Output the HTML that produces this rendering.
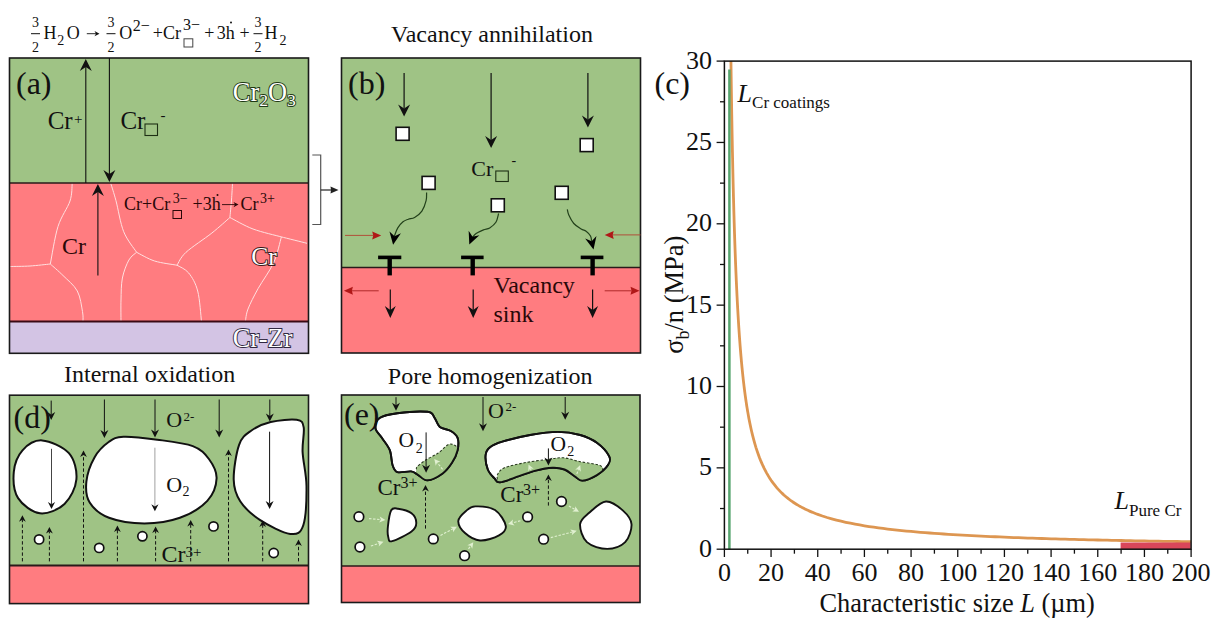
<!DOCTYPE html>
<html><head><meta charset="utf-8"><style>
html,body{margin:0;padding:0;background:#fff;}
svg{display:block;}
text{font-family:"Liberation Serif", serif;}
</style></head><body>
<svg width="1213" height="621" viewBox="0 0 1213 621">
<rect width="1213" height="621" fill="#fff"/>
<rect x="9.5" y="58" width="299" height="125" fill="#9fc385" stroke="none" stroke-width="0"/>
<rect x="9.5" y="183" width="299" height="138.5" fill="#ff7c80" stroke="none" stroke-width="0"/>
<rect x="9.5" y="321.5" width="299" height="31.8" fill="#d3c4e4" stroke="none" stroke-width="0"/>
<path d="M72.2,183.5 C71.83,186.42 72.37,193.83 70,201 C67.63,208.17 61.28,216 58,226.5 C54.72,237 51.58,257.75 50.3,264" fill="none" stroke="#ffe0e0" stroke-width="1"/>
<path d="M10.3,266.5 C13.58,266.42 23.33,266.42 30,266 C36.67,265.58 46.92,264.33 50.3,264" fill="none" stroke="#ffe0e0" stroke-width="1"/>
<path d="M50.3,264 C52.42,265.92 58.5,271 63,275.5 C67.5,280 74.05,284.98 77.3,291 C80.55,297.02 81.55,306.52 82.5,311.6 C83.45,316.68 82.92,319.85 83,321.5" fill="none" stroke="#ffe0e0" stroke-width="1"/>
<path d="M110.8,183.5 C111.67,186.38 113.85,192.77 116,200.8 C118.15,208.83 120.27,223.12 123.7,231.7 C127.13,240.28 134.45,248.87 136.6,252.3" fill="none" stroke="#ffe0e0" stroke-width="1"/>
<path d="M136.6,252.3 C135.32,253.58 131.27,255.72 128.9,260 C126.53,264.28 123.72,271.33 122.4,278 C121.08,284.67 121.23,292.75 121,300 C120.77,307.25 121,317.92 121,321.5" fill="none" stroke="#ffe0e0" stroke-width="1"/>
<path d="M136.6,252.3 C139.6,253.75 147.87,258.85 154.6,261 C161.33,263.15 173.27,264.5 177,265.2" fill="none" stroke="#ffe0e0" stroke-width="1"/>
<path d="M232.5,183.5 C232.33,186.25 231.93,194.33 231.5,200 C231.07,205.67 230.17,214.58 229.9,217.5" fill="none" stroke="#ffe0e0" stroke-width="1"/>
<path d="M229.9,217.5 C226.9,220.08 219.22,227.2 211.9,233 C204.58,238.8 191.82,246.93 186,252.3 C180.18,257.67 178.5,263.05 177,265.2" fill="none" stroke="#ffe0e0" stroke-width="1"/>
<path d="M177,265.2 C178.95,266.5 185.25,268.7 188.7,273 C192.15,277.3 195.57,282.92 197.7,291 C199.83,299.08 200.87,316.42 201.5,321.5" fill="none" stroke="#ffe0e0" stroke-width="1"/>
<path d="M229.9,217.5 C233.75,219.42 244.42,225.77 253,229 C261.58,232.23 276.67,235.58 281.4,236.9" fill="none" stroke="#ffe0e0" stroke-width="1"/>
<path d="M281.4,236.9 C285.67,237.97 302.73,242.23 307,243.3" fill="none" stroke="#ffe0e0" stroke-width="1"/>
<path d="M281.4,236.9 C280.12,241.18 277.57,254.02 273.7,262.6 C269.83,271.18 262.48,280.67 258.2,288.4 C253.92,296.13 250.13,303.48 248,309 C245.87,314.52 245.83,319.42 245.4,321.5" fill="none" stroke="#ffe0e0" stroke-width="1"/>
<line x1="9.5" y1="183" x2="308.5" y2="183" stroke="#2a1a1a" stroke-width="1.6"/>
<line x1="9.5" y1="321.5" x2="308.5" y2="321.5" stroke="#3a0a14" stroke-width="2"/>
<rect x="9.5" y="58" width="299" height="295.3" fill="none" stroke="#1a1a1a" stroke-width="1.6"/>
<line x1="85.8" y1="183" x2="85.8" y2="67" stroke="#111" stroke-width="1.1"/>
<path d="M85.8,59 L91.8,71 L85.8,67 L79.8,71 Z" fill="#111"/>
<line x1="109.4" y1="58" x2="109.4" y2="174" stroke="#111" stroke-width="1.1"/>
<path d="M109.4,182 L103.4,170 L109.4,174 L115.4,170 Z" fill="#111"/>
<line x1="97.9" y1="275.5" x2="97.9" y2="192" stroke="#111" stroke-width="1.1"/>
<path d="M97.9,184 L103.9,196 L97.9,192 L91.9,196 Z" fill="#111"/>
<text x="16" y="94" font-size="32" fill="#111" stroke="#111" stroke-width="0" text-anchor="start">(a)</text>
<text x="47.7" y="129.3" font-size="25" fill="#111" stroke="#111" stroke-width="0" text-anchor="start">Cr</text>
<text x="74" y="124" font-size="15" fill="#111" stroke="#111" stroke-width="0" text-anchor="start">+</text>
<text x="120.4" y="129.3" font-size="25" fill="#111" stroke="#111" stroke-width="0" text-anchor="start">Cr</text>
<rect x="145" y="124" width="12.5" height="11.5" fill="none" stroke="#1e3014" stroke-width="1.1"/>
<text x="160.5" y="120" font-size="15" fill="#111" stroke="#111" stroke-width="0" text-anchor="start">-</text>
<text x="232.8" y="101.4" font-size="26.4" fill="#fff" stroke="#1f3a14" stroke-width="1.9" paint-order="stroke">Cr<tspan font-size="17.6" dy="4.8">2</tspan><tspan dy="-4.8">O</tspan><tspan font-size="17.6" dy="4.8">3</tspan></text>
<text x="124.1" y="210.2" font-size="18" fill="#2a0808" stroke="#2a0808" stroke-width="0" text-anchor="start">Cr+Cr</text>
<text x="172.8" y="202.5" font-size="14" fill="#2a0808" stroke="#2a0808" stroke-width="0" text-anchor="start">3−</text>
<rect x="173" y="210.5" width="8.5" height="8" fill="none" stroke="#2a0808" stroke-width="1"/>
<text x="192.5" y="210.2" font-size="18" fill="#2a0808" stroke="#2a0808" stroke-width="0" text-anchor="start">+3h</text>
<circle cx="217.5" cy="195" r="1" fill="#2a0808"/>
<line x1="222" y1="204.6" x2="235" y2="204.6" stroke="#2a0808" stroke-width="0.9"/>
<path d="M238.5,204.6 L233.5,207.2 L235,204.6 L233.5,202 Z" fill="#2a0808"/>
<text x="240.4" y="210.2" font-size="18" fill="#2a0808" stroke="#2a0808" stroke-width="0" text-anchor="start">Cr</text>
<text x="260" y="203" font-size="14" fill="#2a0808" stroke="#2a0808" stroke-width="0" text-anchor="start">3+</text>
<text x="61.9" y="253.6" font-size="24" fill="#2a0808" stroke="#2a0808" stroke-width="0" text-anchor="start">Cr</text>
<text x="251.3" y="265.2" font-size="25.5" fill="#fff" stroke="#3a1a1a" stroke-width="1.9" paint-order="stroke">Cr</text>
<text x="232.7" y="346.8" font-size="26.5" fill="#fff" stroke="#302840" stroke-width="1.9" paint-order="stroke">Cr-Zr</text>
<text x="35.5" y="26.8" font-size="14" fill="#111" stroke="#111" stroke-width="0" text-anchor="middle">3</text>
<line x1="31" y1="33.7" x2="40" y2="33.7" stroke="#111" stroke-width="1"/>
<text x="35.5" y="51.6" font-size="14" fill="#111" stroke="#111" stroke-width="0" text-anchor="middle">2</text>
<text x="43.5" y="38.9" font-size="18" fill="#111" stroke="#111" stroke-width="0" text-anchor="start">H</text>
<text x="57.2" y="44.6" font-size="14" fill="#111" stroke="#111" stroke-width="0" text-anchor="start">2</text>
<text x="66.8" y="38.9" font-size="18" fill="#111" stroke="#111" stroke-width="0" text-anchor="start">O</text>
<line x1="86.8" y1="33.7" x2="96" y2="33.7" stroke="#111" stroke-width="0.9"/>
<path d="M99.5,33.7 L94.5,36.3 L96,33.7 L94.5,31.1 Z" fill="#111"/>
<text x="111" y="26.8" font-size="14" fill="#111" stroke="#111" stroke-width="0" text-anchor="middle">3</text>
<line x1="106.5" y1="33.7" x2="115.5" y2="33.7" stroke="#111" stroke-width="1"/>
<text x="111" y="51.6" font-size="14" fill="#111" stroke="#111" stroke-width="0" text-anchor="middle">2</text>
<text x="119.3" y="38.9" font-size="18" fill="#111" stroke="#111" stroke-width="0" text-anchor="start">O</text>
<text x="132.8" y="30.6" font-size="16" fill="#111" stroke="#111" stroke-width="0" text-anchor="start">2−</text>
<text x="152.8" y="38.9" font-size="18" fill="#111" stroke="#111" stroke-width="0" text-anchor="start">+Cr</text>
<text x="183" y="29.8" font-size="16" fill="#111" stroke="#111" stroke-width="0" text-anchor="start">3−</text>
<rect x="184" y="38.8" width="8.8" height="8.2" fill="none" stroke="#444" stroke-width="1"/>
<text x="204.2" y="38.9" font-size="18" fill="#111" stroke="#111" stroke-width="0" text-anchor="start">+</text>
<text x="216.8" y="38.9" font-size="18" fill="#111" stroke="#111" stroke-width="0" text-anchor="start">3h</text>
<circle cx="231" cy="22.5" r="1" fill="#111"/>
<text x="239.5" y="38.9" font-size="18" fill="#111" stroke="#111" stroke-width="0" text-anchor="start">+</text>
<text x="258" y="26.8" font-size="14" fill="#111" stroke="#111" stroke-width="0" text-anchor="middle">3</text>
<line x1="253.5" y1="33.7" x2="262.5" y2="33.7" stroke="#111" stroke-width="1"/>
<text x="258" y="51.6" font-size="14" fill="#111" stroke="#111" stroke-width="0" text-anchor="middle">2</text>
<text x="264.6" y="38.9" font-size="18" fill="#111" stroke="#111" stroke-width="0" text-anchor="start">H</text>
<text x="279.6" y="44.6" font-size="14" fill="#111" stroke="#111" stroke-width="0" text-anchor="start">2</text>
<path d="M312.3,155 L320.7,155 L320.7,224.5 L312.3,224.5" fill="none" stroke="#555" stroke-width="1.2"/>
<line x1="320.7" y1="190" x2="331" y2="190" stroke="#222" stroke-width="1.2"/>
<path d="M338.5,190 L330.5,193.5 L331,190 L330.5,186.5 Z" fill="#222"/>
<rect x="341.5" y="58" width="299" height="209.5" fill="#9fc385" stroke="none" stroke-width="0"/>
<rect x="341.5" y="267.5" width="299" height="85.5" fill="#ff7c80" stroke="none" stroke-width="0"/>
<line x1="341.5" y1="267.5" x2="640.5" y2="267.5" stroke="#2a1a1a" stroke-width="1.6"/>
<rect x="341.5" y="58" width="299" height="295" fill="none" stroke="#1a1a1a" stroke-width="1.6"/>
<text x="348" y="94" font-size="32" fill="#111" stroke="#111" stroke-width="0" text-anchor="start">(b)</text>
<text x="391" y="41.9" font-size="24" fill="#111" stroke="#111" stroke-width="0" text-anchor="start">Vacancy annihilation</text>
<line x1="404.1" y1="73" x2="404.1" y2="108.4" stroke="#111" stroke-width="1.2"/>
<path d="M404.1,116.4 L398.1,104.4 L404.1,108.4 L410.1,104.4 Z" fill="#111"/>
<line x1="491.1" y1="73" x2="491.1" y2="139.9" stroke="#111" stroke-width="1.2"/>
<path d="M491.1,147.9 L485.1,135.9 L491.1,139.9 L497.1,135.9 Z" fill="#111"/>
<line x1="587.9" y1="73" x2="587.9" y2="119.6" stroke="#111" stroke-width="1.2"/>
<path d="M587.9,127.6 L581.9,115.6 L587.9,119.6 L593.9,115.6 Z" fill="#111"/>
<rect x="396.1" y="127.3" width="13" height="13" fill="#fff" stroke="#111" stroke-width="1.6"/>
<rect x="422.1" y="176.4" width="13" height="13" fill="#fff" stroke="#111" stroke-width="1.6"/>
<rect x="491.3" y="198.8" width="13" height="13" fill="#fff" stroke="#111" stroke-width="1.6"/>
<rect x="580.2" y="138.6" width="13" height="13" fill="#fff" stroke="#111" stroke-width="1.6"/>
<rect x="555.2" y="186.3" width="13" height="13" fill="#fff" stroke="#111" stroke-width="1.6"/>
<text x="471.3" y="176" font-size="22" fill="#111" stroke="#111" stroke-width="0" text-anchor="start">Cr</text>
<rect x="495.8" y="171" width="12.5" height="10.5" fill="none" stroke="#1e3014" stroke-width="1.1"/>
<text x="511.5" y="165" font-size="14" fill="#111" stroke="#111" stroke-width="0" text-anchor="start">-</text>
<path d="M426.6,192.5 C426.52,193.87 426.88,197.58 426.1,200.7 C425.32,203.82 423.82,208.4 421.9,211.2 C419.98,214 416.87,216.17 414.6,217.5 C412.33,218.83 410.23,218.48 408.3,219.2 C406.37,219.92 404.75,220.35 403,221.8 C401.25,223.25 399.18,225.65 397.8,227.9 C396.42,230.15 395.25,233.9 394.7,235.3 C394.15,236.7 394.56,236.15 394.53,236.32" fill="none" stroke="#22401a" stroke-width="1.2"/>
<path d="M393.1,244.7 L389.48,231.4 L394.53,236.32 L400.92,233.35 Z" fill="#000"/>
<path d="M498.6,213.5 C498.15,214.97 497.38,219.9 495.9,222.3 C494.42,224.7 491.77,226.63 489.7,227.9 C487.63,229.17 485.77,228.95 483.5,229.9 C481.23,230.85 478.02,232.25 476.1,233.6 C474.18,234.95 472.6,237.48 472,238 C471.4,238.52 472.43,236.94 472.52,236.73" fill="none" stroke="#22401a" stroke-width="1.2"/>
<path d="M469.3,244.6 L468.66,230.83 L472.52,236.73 L479.4,235.23 Z" fill="#000"/>
<path d="M567.3,209.3 C567.55,210.23 567.72,212.53 568.8,214.9 C569.88,217.27 571.73,221.13 573.8,223.5 C575.87,225.87 579.15,227.82 581.2,229.1 C583.25,230.38 584.55,230.05 586.1,231.2 C587.65,232.35 589.57,234.33 590.5,236 C591.43,237.67 591.46,240.34 591.66,241.2" fill="none" stroke="#22401a" stroke-width="1.2"/>
<path d="M593.5,249.5 L585.13,238.56 L591.66,241.2 L596.45,236.04 Z" fill="#000"/>
<rect x="378.1" y="255.6" width="23.2" height="3.6" fill="#000" stroke="none" stroke-width="0"/>
<rect x="387.5" y="257" width="4.4" height="18.4" fill="#000" stroke="none" stroke-width="0"/>
<rect x="461.1" y="255.6" width="22.5" height="3.6" fill="#000" stroke="none" stroke-width="0"/>
<rect x="470.5" y="257" width="4.4" height="18.4" fill="#000" stroke="none" stroke-width="0"/>
<rect x="580.7" y="255.6" width="22.7" height="3.6" fill="#000" stroke="none" stroke-width="0"/>
<rect x="590.4" y="257" width="4.4" height="18.4" fill="#000" stroke="none" stroke-width="0"/>
<line x1="390.3" y1="289.5" x2="390.3" y2="310" stroke="#111" stroke-width="1.2"/>
<path d="M390.3,318 L384.8,306 L390.3,310 L395.8,306 Z" fill="#111"/>
<line x1="473.2" y1="289.5" x2="473.2" y2="310" stroke="#111" stroke-width="1.2"/>
<path d="M473.2,318 L467.7,306 L473.2,310 L478.7,306 Z" fill="#111"/>
<line x1="592.6" y1="289.5" x2="592.6" y2="310" stroke="#111" stroke-width="1.2"/>
<path d="M592.6,318 L587.1,306 L592.6,310 L598.1,306 Z" fill="#111"/>
<line x1="345" y1="235.4" x2="373.2" y2="235.4" stroke="#b0503a" stroke-width="1"/>
<path d="M381.2,235.4 L372.2,239.4 L373.2,235.4 L372.2,231.4 Z" fill="#b01818"/>
<line x1="640.5" y1="234.9" x2="612.7" y2="234.9" stroke="#b0503a" stroke-width="1"/>
<path d="M604.7,234.9 L613.7,230.9 L612.7,234.9 L613.7,238.9 Z" fill="#b01818"/>
<line x1="378.7" y1="290.8" x2="351.9" y2="290.8" stroke="#b02828" stroke-width="1"/>
<path d="M343.9,290.8 L352.9,286.8 L351.9,290.8 L352.9,294.8 Z" fill="#b01818"/>
<line x1="604.7" y1="290.8" x2="631.5" y2="290.8" stroke="#b02828" stroke-width="1"/>
<path d="M639.5,290.8 L630.5,294.8 L631.5,290.8 L630.5,286.8 Z" fill="#b01818"/>
<text x="493.5" y="293.4" font-size="24" fill="#2a0808" stroke="#2a0808" stroke-width="0" text-anchor="start">Vacancy</text>
<text x="493.5" y="321.8" font-size="24" fill="#2a0808" stroke="#2a0808" stroke-width="0" text-anchor="start">sink</text>
<rect x="9.5" y="395.2" width="299" height="170" fill="#9fc385" stroke="none" stroke-width="0"/>
<rect x="9.5" y="565.2" width="299" height="38.4" fill="#ff7c80" stroke="none" stroke-width="0"/>
<line x1="9.5" y1="565.5" x2="308.5" y2="565.5" stroke="#2a1a1a" stroke-width="1.8"/>
<text x="64" y="382.2" font-size="24" fill="#111" stroke="#111" stroke-width="0" text-anchor="start">Internal oxidation</text>
<path d="M42.1,440.4 C34.37,439.92 27.22,445.03 22.5,450.3 C17.78,455.57 14.53,464.03 13.8,472 C13.07,479.97 13.75,491.22 18.1,498.1 C22.45,504.98 32.17,512.33 39.9,513.3 C47.63,514.27 58.42,509.57 64.5,503.9 C70.58,498.23 75.67,487.75 76.4,479.3 C77.13,470.85 74.62,459.68 68.9,453.2 C63.18,446.72 49.83,440.88 42.1,440.4 Z" fill="#fff" stroke="#111" stroke-width="2"/>
<path d="M123.5,436.8 C131.55,436.45 145.75,438.15 157.3,439.7 C168.85,441.25 184.2,442.88 192.8,446.1 C201.4,449.32 204.93,453.63 208.9,459 C212.87,464.37 216.87,471.32 216.6,478.3 C216.33,485.28 213.42,494.32 207.3,500.9 C201.18,507.48 190.38,514.05 179.9,517.8 C169.42,521.55 156.22,523.4 144.4,523.4 C132.58,523.4 118.12,521.28 109,517.8 C99.88,514.32 93.47,508.55 89.7,502.5 C85.93,496.45 85.6,489.02 86.4,481.5 C87.2,473.98 90.73,464.02 94.5,457.4 C98.27,450.78 104.17,445.23 109,441.8 C113.83,438.37 115.45,437.15 123.5,436.8 Z" fill="#fff" stroke="#111" stroke-width="2"/>
<path d="M270.7,422 C278.3,420.18 291.2,418.9 296.7,419.8 C302.2,420.7 302.72,422.03 303.7,427.4 C304.68,432.77 302.13,442.22 302.6,452 C303.07,461.78 306.38,473.9 306.5,486.1 C306.62,498.3 306.02,517.23 303.3,525.2 C300.58,533.17 297.45,534.8 290.2,533.9 C282.95,533 268.13,525.23 259.8,519.8 C251.47,514.37 244.55,508 240.2,501.3 C235.85,494.6 233.88,489.02 233.7,479.6 C233.52,470.18 236.2,452.95 239.1,444.8 C242,436.65 245.83,434.5 251.1,430.7 C256.37,426.9 263.1,423.82 270.7,422 Z" fill="#fff" stroke="#111" stroke-width="2"/>
<rect x="9.5" y="395.2" width="299" height="208.4" fill="none" stroke="#1a1a1a" stroke-width="1.6"/>
<text x="13.6" y="428" font-size="32" fill="#111" stroke="#111" stroke-width="0" text-anchor="start">(d)</text>
<line x1="51.2" y1="400.6" x2="51.2" y2="414.5" stroke="#111" stroke-width="1"/>
<path d="M51.2,420 L47.2,412 L51.2,414.5 L55.2,412 Z" fill="#111"/>
<line x1="104.4" y1="399.5" x2="104.4" y2="432.6" stroke="#111" stroke-width="1"/>
<path d="M104.4,438.1 L100.4,430.1 L104.4,432.6 L108.4,430.1 Z" fill="#111"/>
<line x1="155" y1="399.5" x2="155" y2="432" stroke="#111" stroke-width="1"/>
<path d="M155,437.5 L151,429.5 L155,432 L159,429.5 Z" fill="#111"/>
<line x1="219.2" y1="399.5" x2="219.2" y2="432" stroke="#111" stroke-width="1"/>
<path d="M219.2,437.5 L215.2,429.5 L219.2,432 L223.2,429.5 Z" fill="#111"/>
<line x1="269.8" y1="399.5" x2="269.8" y2="416" stroke="#111" stroke-width="1"/>
<path d="M269.8,421.5 L265.8,413.5 L269.8,416 L273.8,413.5 Z" fill="#111"/>
<line x1="51.5" y1="448.8" x2="51.5" y2="504.2" stroke="#444" stroke-width="1"/>
<path d="M51.5,509 L47.9,502 L51.5,504.2 L55.1,502 Z" fill="#111"/>
<line x1="154.9" y1="447.7" x2="154.9" y2="506.5" stroke="#a0a0a0" stroke-width="1"/>
<path d="M154.9,511.3 L151.3,504.3 L154.9,506.5 L158.5,504.3 Z" fill="#111"/>
<line x1="269.6" y1="431.7" x2="269.6" y2="503.4" stroke="#111" stroke-width="1"/>
<path d="M269.6,508.9 L265.6,500.9 L269.6,503.4 L273.6,500.9 Z" fill="#111"/>
<line x1="22.4" y1="561.4" x2="22.4" y2="519.7" stroke="#111" stroke-width="1" stroke-dasharray="3.4,2.2"/>
<path d="M22.4,515.2 L25.8,521.7 L22.4,519.7 L19,521.7 Z" fill="#111"/>
<line x1="49.4" y1="561.4" x2="49.4" y2="531.5" stroke="#111" stroke-width="1" stroke-dasharray="3.4,2.2"/>
<path d="M49.4,527 L52.8,533.5 L49.4,531.5 L46,533.5 Z" fill="#111"/>
<line x1="83.5" y1="561.4" x2="83.5" y2="455" stroke="#111" stroke-width="1" stroke-dasharray="3.4,2.2"/>
<path d="M83.5,450.5 L86.9,457 L83.5,455 L80.1,457 Z" fill="#111"/>
<line x1="117.4" y1="561.4" x2="117.4" y2="529.9" stroke="#111" stroke-width="1" stroke-dasharray="3.4,2.2"/>
<path d="M117.4,525.4 L120.8,531.9 L117.4,529.9 L114,531.9 Z" fill="#111"/>
<line x1="155.6" y1="561.4" x2="155.6" y2="531.1" stroke="#111" stroke-width="1" stroke-dasharray="3.4,2.2"/>
<path d="M155.6,526.6 L159,533.1 L155.6,531.1 L152.2,533.1 Z" fill="#111"/>
<line x1="190.7" y1="561.4" x2="190.7" y2="524.4" stroke="#111" stroke-width="1" stroke-dasharray="3.4,2.2"/>
<path d="M190.7,519.9 L194.1,526.4 L190.7,524.4 L187.3,526.4 Z" fill="#111"/>
<line x1="228.5" y1="561.4" x2="228.5" y2="454" stroke="#111" stroke-width="1" stroke-dasharray="3.4,2.2"/>
<path d="M228.5,449.5 L231.9,456 L228.5,454 L225.1,456 Z" fill="#111"/>
<line x1="262.7" y1="561.4" x2="262.7" y2="524.9" stroke="#111" stroke-width="1" stroke-dasharray="3.4,2.2"/>
<path d="M262.7,520.4 L266.1,526.9 L262.7,524.9 L259.3,526.9 Z" fill="#111"/>
<line x1="298.5" y1="561.4" x2="298.5" y2="544" stroke="#111" stroke-width="1" stroke-dasharray="3.4,2.2"/>
<path d="M298.5,539.5 L301.9,546 L298.5,544 L295.1,546 Z" fill="#111"/>
<circle cx="39.1" cy="539.4" r="4.6" fill="#fff" stroke="#111" stroke-width="1.7"/>
<circle cx="99.2" cy="547.9" r="4.6" fill="#fff" stroke="#111" stroke-width="1.7"/>
<circle cx="142.4" cy="536.3" r="4.6" fill="#fff" stroke="#111" stroke-width="1.7"/>
<circle cx="213.5" cy="526.4" r="4.6" fill="#fff" stroke="#111" stroke-width="1.7"/>
<circle cx="273.7" cy="553" r="4.6" fill="#fff" stroke="#111" stroke-width="1.7"/>
<text x="166.2" y="427.2" font-size="22" fill="#111" stroke="#111" stroke-width="0" text-anchor="start">O</text>
<text x="183.5" y="421" font-size="13" fill="#111" stroke="#111" stroke-width="0" text-anchor="start">2-</text>
<text x="166.2" y="491.5" font-size="22" fill="#111" stroke="#111" stroke-width="0" text-anchor="start">O</text>
<text x="182.6" y="496" font-size="14" fill="#111" stroke="#111" stroke-width="0" text-anchor="start">2</text>
<text x="161.5" y="561.5" font-size="24" fill="#111" stroke="#111" stroke-width="0" text-anchor="start">Cr</text>
<text x="185.5" y="556.5" font-size="15" fill="#111" stroke="#111" stroke-width="0" text-anchor="start">3+</text>
<rect x="341.5" y="395" width="298.5" height="171" fill="#9fc385" stroke="none" stroke-width="0"/>
<rect x="341.5" y="566" width="298.5" height="36.5" fill="#ff7c80" stroke="none" stroke-width="0"/>
<line x1="341.5" y1="566" x2="640" y2="566" stroke="#2a1a1a" stroke-width="1.6"/>
<text x="387.8" y="383.7" font-size="24" fill="#111" stroke="#111" stroke-width="0" text-anchor="start">Pore homogenization</text>
<path d="M379.6,418 C383.25,415.48 389.42,414.23 397.4,413.2 C405.38,412.17 421.35,411.12 427.5,411.8 C433.65,412.48 432.25,414.78 434.3,417.3 C436.35,419.82 437.05,424.62 439.8,426.9 C442.55,429.18 447.83,429.17 450.8,431 C453.77,432.83 456.47,434.7 457.6,437.9 C458.73,441.1 458.52,446.1 457.6,450.2 C456.68,454.3 454.6,458.63 452.1,462.5 C449.6,466.37 446.7,470.43 442.6,473.4 C438.5,476.37 431.62,480.07 427.5,480.3 C423.38,480.53 420.63,476.28 417.9,474.8 C415.17,473.32 414.52,471.85 411.1,471.4 C407.68,470.95 400.48,473.13 397.4,472.1 C394.32,471.07 393.87,468.85 392.6,465.2 C391.33,461.55 391.57,454.73 389.8,450.2 C388.03,445.67 384.38,441.65 382,438 C379.62,434.35 375.9,431.63 375.5,428.3 C375.1,424.97 375.95,420.52 379.6,418 Z" fill="#fff" stroke="#111" stroke-width="1.9"/>
<path d="M485.6,455 C485.97,451.3 487.22,449.52 490,447.3 C492.78,445.08 495.62,443.75 502.3,441.7 C508.98,439.65 520.83,436.63 530.1,435 C539.37,433.37 549.55,431.9 557.9,431.9 C566.25,431.9 573.7,433.18 580.2,435 C586.7,436.82 592.08,439.27 596.9,442.8 C601.72,446.33 607.25,452.48 609.1,456.2 C610.95,459.92 610.03,461.95 608,465.1 C605.97,468.25 601.17,472.52 596.9,475.1 C592.63,477.68 586.12,480.42 582.4,480.6 C578.68,480.78 577.57,478.05 574.6,476.2 C571.63,474.35 568.32,470.9 564.6,469.5 C560.88,468.1 557.13,467.62 552.3,467.8 C547.47,467.98 541.15,469.2 535.6,470.6 C530.05,472 524.93,474.25 519,476.2 C513.07,478.15 504.08,481.93 500,482.3 C495.92,482.67 496.53,480.53 494.5,478.4 C492.47,476.27 489.28,473.4 487.8,469.5 C486.32,465.6 485.23,458.7 485.6,455 Z" fill="#fff" stroke="#111" stroke-width="1.9"/>
<path d="M391.2,510.3 C392.88,507.3 394.62,508.22 398,508.7 C401.38,509.18 408.45,510.83 411.5,513.2 C414.55,515.57 416.3,519.85 416.3,522.9 C416.3,525.95 415.52,528.45 411.5,531.5 C407.48,534.55 396.07,540.23 392.2,541.2 C388.33,542.17 389.02,539.72 388.3,537.3 C387.58,534.88 387.42,531.2 387.9,526.7 C388.38,522.2 389.52,513.3 391.2,510.3 Z" fill="#fff" stroke="#111" stroke-width="1.9"/>
<path d="M458.3,521 C458.47,517.33 463.17,513.43 466,511 C468.83,508.57 470.47,506.57 475.3,506.4 C480.13,506.23 489.92,506.73 495,510 C500.08,513.27 505.13,521.77 505.8,526 C506.47,530.23 503.3,532.98 499,535.4 C494.7,537.82 485.67,540.9 480,540.5 C474.33,540.1 468.62,536.25 465,533 C461.38,529.75 458.13,524.67 458.3,521 Z" fill="#fff" stroke="#111" stroke-width="1.9"/>
<path d="M606,501.5 C611.63,501.13 618.75,506.83 623,510.6 C627.25,514.37 631.13,518.85 631.5,524.1 C631.87,529.35 629.25,537.97 625.2,542.1 C621.15,546.23 613.58,548.9 607.2,548.9 C600.82,548.9 591.42,546.23 586.9,542.1 C582.38,537.97 579.72,528.98 580.1,524.1 C580.48,519.22 584.88,516.57 589.2,512.8 C593.52,509.03 600.37,501.87 606,501.5 Z" fill="#fff" stroke="#111" stroke-width="1.9"/>
<clipPath id="ce1"><path d="M379.6,418 C383.25,415.48 389.42,414.23 397.4,413.2 C405.38,412.17 421.35,411.12 427.5,411.8 C433.65,412.48 432.25,414.78 434.3,417.3 C436.35,419.82 437.05,424.62 439.8,426.9 C442.55,429.18 447.83,429.17 450.8,431 C453.77,432.83 456.47,434.7 457.6,437.9 C458.73,441.1 458.52,446.1 457.6,450.2 C456.68,454.3 454.6,458.63 452.1,462.5 C449.6,466.37 446.7,470.43 442.6,473.4 C438.5,476.37 431.62,480.07 427.5,480.3 C423.38,480.53 420.63,476.28 417.9,474.8 C415.17,473.32 414.52,471.85 411.1,471.4 C407.68,470.95 400.48,473.13 397.4,472.1 C394.32,471.07 393.87,468.85 392.6,465.2 C391.33,461.55 391.57,454.73 389.8,450.2 C388.03,445.67 384.38,441.65 382,438 C379.62,434.35 375.9,431.63 375.5,428.3 C375.1,424.97 375.95,420.52 379.6,418 Z"/></clipPath>
<clipPath id="ce2"><path d="M485.6,455 C485.97,451.3 487.22,449.52 490,447.3 C492.78,445.08 495.62,443.75 502.3,441.7 C508.98,439.65 520.83,436.63 530.1,435 C539.37,433.37 549.55,431.9 557.9,431.9 C566.25,431.9 573.7,433.18 580.2,435 C586.7,436.82 592.08,439.27 596.9,442.8 C601.72,446.33 607.25,452.48 609.1,456.2 C610.95,459.92 610.03,461.95 608,465.1 C605.97,468.25 601.17,472.52 596.9,475.1 C592.63,477.68 586.12,480.42 582.4,480.6 C578.68,480.78 577.57,478.05 574.6,476.2 C571.63,474.35 568.32,470.9 564.6,469.5 C560.88,468.1 557.13,467.62 552.3,467.8 C547.47,467.98 541.15,469.2 535.6,470.6 C530.05,472 524.93,474.25 519,476.2 C513.07,478.15 504.08,481.93 500,482.3 C495.92,482.67 496.53,480.53 494.5,478.4 C492.47,476.27 489.28,473.4 487.8,469.5 C486.32,465.6 485.23,458.7 485.6,455 Z"/></clipPath>
<path d="M416.5,469.3 C416.62,468.85 415.6,468.18 417.2,466.6 C418.8,465.02 422.57,462.08 426.1,459.8 C429.63,457.52 434.75,455.42 438.4,452.9 C442.05,450.38 445.48,446.07 448,444.7 C450.52,443.33 451.9,444.25 453.5,444.7 C455.1,445.15 456.92,446.95 457.6,447.4 L470,447 L470,495 L410,495 Z" fill="#9fc385" clip-path="url(#ce1)"/>
<path d="M416.5,469.3 C416.62,468.85 415.6,468.18 417.2,466.6 C418.8,465.02 422.57,462.08 426.1,459.8 C429.63,457.52 434.75,455.42 438.4,452.9 C442.05,450.38 445.48,446.07 448,444.7 C450.52,443.33 451.9,444.25 453.5,444.7 C455.1,445.15 456.92,446.95 457.6,447.4" fill="none" stroke="#2a3a20" stroke-width="1.1" stroke-dasharray="2.5,1.8" clip-path="url(#ce1)"/>
<path d="M497.3,479.5 C497.38,478.58 496.6,475.95 497.8,474 C499,472.05 500.05,469.67 504.5,467.8 C508.95,465.93 517.45,464.18 524.5,462.8 C531.55,461.42 540.3,460.33 546.8,459.5 C553.3,458.67 557.93,457.43 563.5,457.8 C569.07,458.17 574.63,460.58 580.2,461.7 C585.77,462.82 593.2,463.57 596.9,464.5 C600.6,465.43 601.48,466.28 602.4,467.3 C603.32,468.32 602.4,470.05 602.4,470.6 L612,471 L612,495 L480,495 Z" fill="#9fc385" clip-path="url(#ce2)"/>
<path d="M497.3,479.5 C497.38,478.58 496.6,475.95 497.8,474 C499,472.05 500.05,469.67 504.5,467.8 C508.95,465.93 517.45,464.18 524.5,462.8 C531.55,461.42 540.3,460.33 546.8,459.5 C553.3,458.67 557.93,457.43 563.5,457.8 C569.07,458.17 574.63,460.58 580.2,461.7 C585.77,462.82 593.2,463.57 596.9,464.5 C600.6,465.43 601.48,466.28 602.4,467.3 C603.32,468.32 602.4,470.05 602.4,470.6" fill="none" stroke="#2a3a20" stroke-width="1.1" stroke-dasharray="2.5,1.8" clip-path="url(#ce2)"/>
<path d="M379.6,418 C383.25,415.48 389.42,414.23 397.4,413.2 C405.38,412.17 421.35,411.12 427.5,411.8 C433.65,412.48 432.25,414.78 434.3,417.3 C436.35,419.82 437.05,424.62 439.8,426.9 C442.55,429.18 447.83,429.17 450.8,431 C453.77,432.83 456.47,434.7 457.6,437.9 C458.73,441.1 458.52,446.1 457.6,450.2 C456.68,454.3 454.6,458.63 452.1,462.5 C449.6,466.37 446.7,470.43 442.6,473.4 C438.5,476.37 431.62,480.07 427.5,480.3 C423.38,480.53 420.63,476.28 417.9,474.8 C415.17,473.32 414.52,471.85 411.1,471.4 C407.68,470.95 400.48,473.13 397.4,472.1 C394.32,471.07 393.87,468.85 392.6,465.2 C391.33,461.55 391.57,454.73 389.8,450.2 C388.03,445.67 384.38,441.65 382,438 C379.62,434.35 375.9,431.63 375.5,428.3 C375.1,424.97 375.95,420.52 379.6,418 Z" fill="none" stroke="#111" stroke-width="1.9"/>
<path d="M485.6,455 C485.97,451.3 487.22,449.52 490,447.3 C492.78,445.08 495.62,443.75 502.3,441.7 C508.98,439.65 520.83,436.63 530.1,435 C539.37,433.37 549.55,431.9 557.9,431.9 C566.25,431.9 573.7,433.18 580.2,435 C586.7,436.82 592.08,439.27 596.9,442.8 C601.72,446.33 607.25,452.48 609.1,456.2 C610.95,459.92 610.03,461.95 608,465.1 C605.97,468.25 601.17,472.52 596.9,475.1 C592.63,477.68 586.12,480.42 582.4,480.6 C578.68,480.78 577.57,478.05 574.6,476.2 C571.63,474.35 568.32,470.9 564.6,469.5 C560.88,468.1 557.13,467.62 552.3,467.8 C547.47,467.98 541.15,469.2 535.6,470.6 C530.05,472 524.93,474.25 519,476.2 C513.07,478.15 504.08,481.93 500,482.3 C495.92,482.67 496.53,480.53 494.5,478.4 C492.47,476.27 489.28,473.4 487.8,469.5 C486.32,465.6 485.23,458.7 485.6,455 Z" fill="none" stroke="#111" stroke-width="1.9"/>
<rect x="341.5" y="395" width="298.5" height="207.5" fill="none" stroke="#1a1a1a" stroke-width="1.6"/>
<text x="344" y="425" font-size="32" fill="#111" stroke="#111" stroke-width="0" text-anchor="start">(e)</text>
<line x1="396" y1="397.2" x2="396" y2="405.2" stroke="#111" stroke-width="1"/>
<path d="M396,410.7 L392,402.7 L396,405.2 L400,402.7 Z" fill="#111"/>
<line x1="483" y1="397" x2="483" y2="425.8" stroke="#111" stroke-width="1"/>
<path d="M483,431.3 L479,423.3 L483,425.8 L487,423.3 Z" fill="#111"/>
<line x1="565.2" y1="397" x2="565.2" y2="414.3" stroke="#111" stroke-width="1"/>
<path d="M565.2,419.8 L561.2,411.8 L565.2,414.3 L569.2,411.8 Z" fill="#111"/>
<text x="488" y="417.7" font-size="22" fill="#111" stroke="#111" stroke-width="0" text-anchor="start">O</text>
<text x="505.6" y="411" font-size="13" fill="#111" stroke="#111" stroke-width="0" text-anchor="start">2-</text>
<text x="398.6" y="447" font-size="21.5" fill="#111" stroke="#111" stroke-width="0" text-anchor="start">O</text>
<text x="415.8" y="452.9" font-size="14" fill="#111" stroke="#111" stroke-width="0" text-anchor="start">2</text>
<text x="550.5" y="450.6" font-size="21.5" fill="#111" stroke="#111" stroke-width="0" text-anchor="start">O</text>
<text x="567.3" y="455.6" font-size="14" fill="#111" stroke="#111" stroke-width="0" text-anchor="start">2</text>
<line x1="426.1" y1="432.4" x2="426.1" y2="467.3" stroke="#111" stroke-width="1"/>
<path d="M426.1,472.8 L422.1,464.8 L426.1,467.3 L430.1,464.8 Z" fill="#111"/>
<line x1="548.4" y1="448.4" x2="548.4" y2="460.1" stroke="#111" stroke-width="1"/>
<path d="M548.4,465.6 L544.4,457.6 L548.4,460.1 L552.4,457.6 Z" fill="#111"/>
<line x1="425.5" y1="528.6" x2="425.5" y2="489.6" stroke="#111" stroke-width="1" stroke-dasharray="3.4,2.2"/>
<path d="M425.5,485.1 L428.9,491.6 L425.5,489.6 L422.1,491.6 Z" fill="#111"/>
<line x1="548.4" y1="505.6" x2="548.4" y2="479" stroke="#111" stroke-width="1" stroke-dasharray="3.4,2.2"/>
<path d="M548.4,474.5 L551.8,481 L548.4,479 L545,481 Z" fill="#111"/>
<text x="377.5" y="494.5" font-size="23" fill="#111" stroke="#111" stroke-width="0" text-anchor="start">Cr</text>
<text x="400.5" y="487.6" font-size="16" fill="#111" stroke="#111" stroke-width="0" text-anchor="start">3+</text>
<text x="500.3" y="501.8" font-size="23" fill="#111" stroke="#111" stroke-width="0" text-anchor="start">Cr</text>
<text x="523" y="494.9" font-size="16" fill="#111" stroke="#111" stroke-width="0" text-anchor="start">3+</text>
<circle cx="358.9" cy="516.7" r="4.8" fill="#fff" stroke="#111" stroke-width="1.7"/>
<circle cx="359.9" cy="547" r="4.8" fill="#fff" stroke="#111" stroke-width="1.7"/>
<circle cx="433.3" cy="538.9" r="4.8" fill="#fff" stroke="#111" stroke-width="1.7"/>
<circle cx="464.6" cy="555.7" r="4.8" fill="#fff" stroke="#111" stroke-width="1.7"/>
<circle cx="561.5" cy="501.5" r="4.8" fill="#fff" stroke="#111" stroke-width="1.7"/>
<circle cx="527.6" cy="516.9" r="4.8" fill="#fff" stroke="#111" stroke-width="1.7"/>
<circle cx="543.6" cy="539.2" r="4.8" fill="#fff" stroke="#111" stroke-width="1.7"/>
<line x1="369" y1="518.6" x2="380.92" y2="519.62" stroke="#e0f0d0" stroke-width="1.1" stroke-dasharray="2.5,1.5"/>
<path d="M385.4,520 L379.17,522.48 L380.92,519.62 L379.68,516.5 Z" fill="#e0f0d0"/>
<line x1="370.9" y1="546" x2="379.23" y2="543.22" stroke="#e0f0d0" stroke-width="1.1" stroke-dasharray="2.5,1.5"/>
<path d="M383.5,541.8 L378.76,546.54 L379.23,543.22 L376.86,540.85 Z" fill="#e0f0d0"/>
<line x1="440.5" y1="535.4" x2="452.92" y2="528.81" stroke="#e0f0d0" stroke-width="1.1" stroke-dasharray="2.5,1.5"/>
<path d="M456.9,526.7 L453.01,532.16 L452.92,528.81 L450.19,526.86 Z" fill="#e0f0d0"/>
<line x1="468.5" y1="548.9" x2="470.68" y2="545.86" stroke="#e0f0d0" stroke-width="1.1" stroke-dasharray="2.5,1.5"/>
<path d="M473.3,542.2 L472.24,548.82 L470.68,545.86 L467.37,545.33 Z" fill="#e0f0d0"/>
<line x1="520.4" y1="520.7" x2="512.34" y2="522.91" stroke="#e0f0d0" stroke-width="1.1" stroke-dasharray="2.5,1.5"/>
<path d="M508,524.1 L512.99,519.62 L512.34,522.91 L514.58,525.41 Z" fill="#e0f0d0"/>
<line x1="550.8" y1="537.6" x2="572.45" y2="531.94" stroke="#e0f0d0" stroke-width="1.1" stroke-dasharray="2.5,1.5"/>
<path d="M576.8,530.8 L571.75,535.22 L572.45,531.94 L570.24,529.42 Z" fill="#e0f0d0"/>
<line x1="568.9" y1="506.1" x2="575.06" y2="509.52" stroke="#e0f0d0" stroke-width="1.1" stroke-dasharray="2.5,1.5"/>
<path d="M579,511.7 L572.3,511.41 L575.06,509.52 L575.21,506.17 Z" fill="#e0f0d0"/>
<line x1="442.6" y1="469.3" x2="437.14" y2="462.59" stroke="#e0f0d0" stroke-width="1.1" stroke-dasharray="2.5,1.5"/>
<path d="M434.3,459.1 L440.41,461.86 L437.14,462.59 L435.76,465.65 Z" fill="#e0f0d0"/>
<line x1="531" y1="470" x2="530.36" y2="468.6" stroke="#e0f0d0" stroke-width="1.1" stroke-dasharray="2.5,1.5"/>
<path d="M528.5,464.5 L533.71,468.72 L530.36,468.6 L528.25,471.2 Z" fill="#e0f0d0"/>
<line x1="576.8" y1="474" x2="578.59" y2="469.3" stroke="#e0f0d0" stroke-width="1.1" stroke-dasharray="2.5,1.5"/>
<path d="M580.2,465.1 L580.86,471.78 L578.59,469.3 L575.26,469.63 Z" fill="#e0f0d0"/>
<clipPath id="plot"><rect x="724.4" y="61.1" width="466.7" height="488.1"/></clipPath>
<polyline points="730.93,60.45 731.05,69.01 731.17,77.28 731.28,85.27 731.4,92.99 731.52,100.46 731.63,107.68 731.75,114.68 731.87,121.46 731.98,128.03 732.1,134.4 732.22,140.59 732.33,146.58 732.45,152.41 732.57,158.07 732.68,163.57 732.8,168.92 732.92,174.12 733.03,179.18 733.15,184.1 733.27,188.9 733.38,193.57 733.5,198.12 733.62,202.55 733.73,206.88 733.85,211.1 733.97,215.21 734.08,219.23 734.2,223.15 734.32,226.98 734.43,230.72 734.55,234.37 734.67,237.94 734.78,241.43 734.9,244.84 735.02,248.18 735.13,251.44 735.25,254.64 735.37,257.77 735.48,260.83 735.6,263.82 735.72,266.76 735.83,269.63 735.95,272.45 736.07,275.21 736.18,277.92 736.3,280.57 736.42,283.17 736.53,285.73 736.65,288.23 736.77,290.69 736.88,293.09 737,295.46 737.12,297.78 737.23,300.06 737.35,302.3 737.47,304.5 737.58,306.66 737.7,308.78 737.82,310.87 737.93,312.91 738.05,314.93 738.17,316.91 738.28,318.86 738.4,320.77 738.52,322.65 738.63,324.5 738.75,326.32 738.87,328.12 738.98,329.88 739.1,331.62 739.22,333.32 739.33,335.01 739.45,336.66 739.57,338.29 739.68,339.9 739.8,341.48 739.92,343.03 740.03,344.57 740.15,346.08 740.27,347.57 740.38,349.03 740.5,350.48 740.62,351.9 740.73,353.31 740.85,354.69 740.97,356.06 741.08,357.41 741.2,358.73 741.32,360.04 741.43,361.33 741.55,362.61 741.67,363.86 741.78,365.1 741.9,366.33 742.02,367.53 742.13,368.72 742.25,369.9 742.37,371.06 742.48,372.2 742.6,373.33 742.72,374.45 742.83,375.55 742.95,376.64 743.07,377.71 743.18,378.78 743.3,379.82 743.42,380.86 743.53,381.88 743.65,382.89 743.77,383.89 743.88,384.87 744,385.85 744.12,386.81 744.23,387.76 744.35,388.7 744.47,389.63 744.58,390.55 744.7,391.46 744.82,392.36 744.93,393.24 745.05,394.12 745.17,394.99 745.28,395.85 745.4,396.7 745.52,397.53 745.63,398.36 745.75,399.19 745.87,400 745.98,400.8 746.1,401.59 746.22,402.38 746.33,403.16 746.45,403.93 746.57,404.69 746.68,405.44 746.8,406.19 746.92,406.92 747.03,407.65 747.15,408.38 747.27,409.09 747.38,409.8 747.5,410.5 747.62,411.19 747.74,411.88 748.9,418.39 750.07,424.31 751.24,429.71 752.4,434.66 753.57,439.21 754.74,443.42 755.9,447.31 757.07,450.93 758.24,454.3 759.4,457.44 760.57,460.38 761.74,463.13 762.9,465.72 764.07,468.16 765.24,470.45 766.4,472.62 767.57,474.67 768.74,476.62 769.9,478.46 771.07,480.22 772.24,481.88 773.4,483.47 774.57,484.98 775.74,486.43 776.9,487.81 778.07,489.13 779.24,490.39 780.4,491.6 781.57,492.77 782.74,493.88 783.9,494.95 785.07,495.98 786.24,496.98 787.4,497.93 788.57,498.85 789.74,499.74 790.9,500.6 792.07,501.42 793.24,502.22 794.4,502.99 795.57,503.74 796.74,504.46 797.91,505.16 799.07,505.84 800.24,506.5 801.41,507.13 802.57,507.75 803.74,508.35 804.91,508.94 806.07,509.5 807.24,510.05 808.41,510.59 809.57,511.11 810.74,511.61 811.91,512.1 813.07,512.58 814.24,513.05 815.41,513.51 816.57,513.95 817.74,514.38 822.41,516.01 827.07,517.49 831.74,518.84 836.41,520.08 841.07,521.22 845.74,522.27 850.41,523.24 855.08,524.14 859.74,524.99 864.41,525.77 869.08,526.51 873.74,527.19 878.41,527.84 883.08,528.45 887.74,529.03 892.41,529.57 897.08,530.08 901.75,530.57 906.41,531.03 911.08,531.47 915.75,531.88 920.41,532.28 925.08,532.66 929.75,533.02 934.41,533.36 939.08,533.69 943.75,534.01 948.42,534.31 953.08,534.6 957.75,534.88 962.42,535.15 967.08,535.41 971.75,535.66 976.42,535.89 981.08,536.12 985.75,536.35 990.42,536.56 995.09,536.77 999.75,536.97 1004.42,537.16 1009.09,537.35 1013.75,537.53 1018.42,537.7 1023.09,537.87 1027.75,538.04 1032.42,538.2 1037.09,538.35 1041.76,538.5 1046.42,538.65 1051.09,538.79 1055.76,538.92 1060.42,539.06 1065.09,539.19 1069.76,539.31 1074.42,539.44 1079.09,539.56 1083.76,539.67 1088.43,539.79 1093.09,539.9 1097.76,540.01 1102.43,540.11 1107.09,540.22 1111.76,540.32 1116.43,540.41 1121.09,540.51 1125.76,540.6 1130.43,540.69 1135.1,540.78 1139.76,540.87 1144.43,540.96 1149.1,541.04 1153.76,541.12 1158.43,541.2 1163.1,541.28 1167.76,541.36 1172.43,541.43 1177.1,541.5 1181.77,541.58 1186.43,541.65 1191.1,541.72" fill="none" stroke="#dd9651" stroke-width="2.8" clip-path="url(#plot)"/>
<line x1="729.4" y1="69.5" x2="729.4" y2="549" stroke="#58a670" stroke-width="2.5"/>
<rect x="1120.6" y="542.5" width="70.2" height="6.7" fill="#d9465a" stroke="none" stroke-width="0"/>
<rect x="724.4" y="61.1" width="466.7" height="488.1" fill="none" stroke="#111" stroke-width="1.5"/>
<line x1="716.6" y1="549.2" x2="724.4" y2="549.2" stroke="#111" stroke-width="1.3"/>
<text x="712" y="556.8" font-size="26" fill="#111" stroke="#111" stroke-width="0" text-anchor="end">0</text>
<line x1="716.6" y1="467.85" x2="724.4" y2="467.85" stroke="#111" stroke-width="1.3"/>
<text x="712" y="475.45" font-size="26" fill="#111" stroke="#111" stroke-width="0" text-anchor="end">5</text>
<line x1="716.6" y1="386.5" x2="724.4" y2="386.5" stroke="#111" stroke-width="1.3"/>
<text x="712" y="394.1" font-size="26" fill="#111" stroke="#111" stroke-width="0" text-anchor="end">10</text>
<line x1="716.6" y1="305.15" x2="724.4" y2="305.15" stroke="#111" stroke-width="1.3"/>
<text x="712" y="312.75" font-size="26" fill="#111" stroke="#111" stroke-width="0" text-anchor="end">15</text>
<line x1="716.6" y1="223.8" x2="724.4" y2="223.8" stroke="#111" stroke-width="1.3"/>
<text x="712" y="231.4" font-size="26" fill="#111" stroke="#111" stroke-width="0" text-anchor="end">20</text>
<line x1="716.6" y1="142.45" x2="724.4" y2="142.45" stroke="#111" stroke-width="1.3"/>
<text x="712" y="150.05" font-size="26" fill="#111" stroke="#111" stroke-width="0" text-anchor="end">25</text>
<line x1="716.6" y1="61.1" x2="724.4" y2="61.1" stroke="#111" stroke-width="1.3"/>
<text x="712" y="68.7" font-size="26" fill="#111" stroke="#111" stroke-width="0" text-anchor="end">30</text>
<line x1="720" y1="508.53" x2="724.4" y2="508.53" stroke="#111" stroke-width="1.3"/>
<line x1="720" y1="427.18" x2="724.4" y2="427.18" stroke="#111" stroke-width="1.3"/>
<line x1="720" y1="345.83" x2="724.4" y2="345.83" stroke="#111" stroke-width="1.3"/>
<line x1="720" y1="264.48" x2="724.4" y2="264.48" stroke="#111" stroke-width="1.3"/>
<line x1="720" y1="183.13" x2="724.4" y2="183.13" stroke="#111" stroke-width="1.3"/>
<line x1="720" y1="101.78" x2="724.4" y2="101.78" stroke="#111" stroke-width="1.3"/>
<line x1="724.4" y1="549.2" x2="724.4" y2="557" stroke="#111" stroke-width="1.3"/>
<text x="724.4" y="581" font-size="26" fill="#111" stroke="#111" stroke-width="0" text-anchor="middle">0</text>
<line x1="771.07" y1="549.2" x2="771.07" y2="557" stroke="#111" stroke-width="1.3"/>
<text x="771.07" y="581" font-size="26" fill="#111" stroke="#111" stroke-width="0" text-anchor="middle">20</text>
<line x1="817.74" y1="549.2" x2="817.74" y2="557" stroke="#111" stroke-width="1.3"/>
<text x="817.74" y="581" font-size="26" fill="#111" stroke="#111" stroke-width="0" text-anchor="middle">40</text>
<line x1="864.41" y1="549.2" x2="864.41" y2="557" stroke="#111" stroke-width="1.3"/>
<text x="864.41" y="581" font-size="26" fill="#111" stroke="#111" stroke-width="0" text-anchor="middle">60</text>
<line x1="911.08" y1="549.2" x2="911.08" y2="557" stroke="#111" stroke-width="1.3"/>
<text x="911.08" y="581" font-size="26" fill="#111" stroke="#111" stroke-width="0" text-anchor="middle">80</text>
<line x1="957.75" y1="549.2" x2="957.75" y2="557" stroke="#111" stroke-width="1.3"/>
<text x="957.75" y="581" font-size="26" fill="#111" stroke="#111" stroke-width="0" text-anchor="middle">100</text>
<line x1="1004.42" y1="549.2" x2="1004.42" y2="557" stroke="#111" stroke-width="1.3"/>
<text x="1004.42" y="581" font-size="26" fill="#111" stroke="#111" stroke-width="0" text-anchor="middle">120</text>
<line x1="1051.09" y1="549.2" x2="1051.09" y2="557" stroke="#111" stroke-width="1.3"/>
<text x="1051.09" y="581" font-size="26" fill="#111" stroke="#111" stroke-width="0" text-anchor="middle">140</text>
<line x1="1097.76" y1="549.2" x2="1097.76" y2="557" stroke="#111" stroke-width="1.3"/>
<text x="1097.76" y="581" font-size="26" fill="#111" stroke="#111" stroke-width="0" text-anchor="middle">160</text>
<line x1="1144.43" y1="549.2" x2="1144.43" y2="557" stroke="#111" stroke-width="1.3"/>
<text x="1144.43" y="581" font-size="26" fill="#111" stroke="#111" stroke-width="0" text-anchor="middle">180</text>
<line x1="1191.1" y1="549.2" x2="1191.1" y2="557" stroke="#111" stroke-width="1.3"/>
<text x="1191.1" y="581" font-size="26" fill="#111" stroke="#111" stroke-width="0" text-anchor="middle">200</text>
<line x1="747.74" y1="549.2" x2="747.74" y2="553.7" stroke="#111" stroke-width="1.3"/>
<line x1="794.4" y1="549.2" x2="794.4" y2="553.7" stroke="#111" stroke-width="1.3"/>
<line x1="841.07" y1="549.2" x2="841.07" y2="553.7" stroke="#111" stroke-width="1.3"/>
<line x1="887.74" y1="549.2" x2="887.74" y2="553.7" stroke="#111" stroke-width="1.3"/>
<line x1="934.41" y1="549.2" x2="934.41" y2="553.7" stroke="#111" stroke-width="1.3"/>
<line x1="981.08" y1="549.2" x2="981.08" y2="553.7" stroke="#111" stroke-width="1.3"/>
<line x1="1027.75" y1="549.2" x2="1027.75" y2="553.7" stroke="#111" stroke-width="1.3"/>
<line x1="1074.42" y1="549.2" x2="1074.42" y2="553.7" stroke="#111" stroke-width="1.3"/>
<line x1="1121.09" y1="549.2" x2="1121.09" y2="553.7" stroke="#111" stroke-width="1.3"/>
<line x1="1167.76" y1="549.2" x2="1167.76" y2="553.7" stroke="#111" stroke-width="1.3"/>
<text x="819.5" y="612.3" font-size="26.4" fill="#111">Characteristic size <tspan font-style="italic">L</tspan> (µm)</text>
<text transform="translate(683,294.7) rotate(-90)" font-size="26.5" fill="#111" text-anchor="middle">σ<tspan font-size="18" dy="5.5">b</tspan><tspan dy="-5.5">/n (MPa)</tspan></text>
<text x="654.5" y="94.3" font-size="32" fill="#111" stroke="#111" stroke-width="0" text-anchor="start">(c)</text>
<text x="737.6" y="101.9" font-size="26" fill="#111" font-style="italic">L<tspan font-style="normal" font-size="17" dy="6.4">Cr coatings</tspan></text>
<text x="1114.5" y="508.9" font-size="26" fill="#111" font-style="italic">L<tspan font-style="normal" font-size="17" dy="7.3">Pure Cr</tspan></text>
</svg>
</body></html>
